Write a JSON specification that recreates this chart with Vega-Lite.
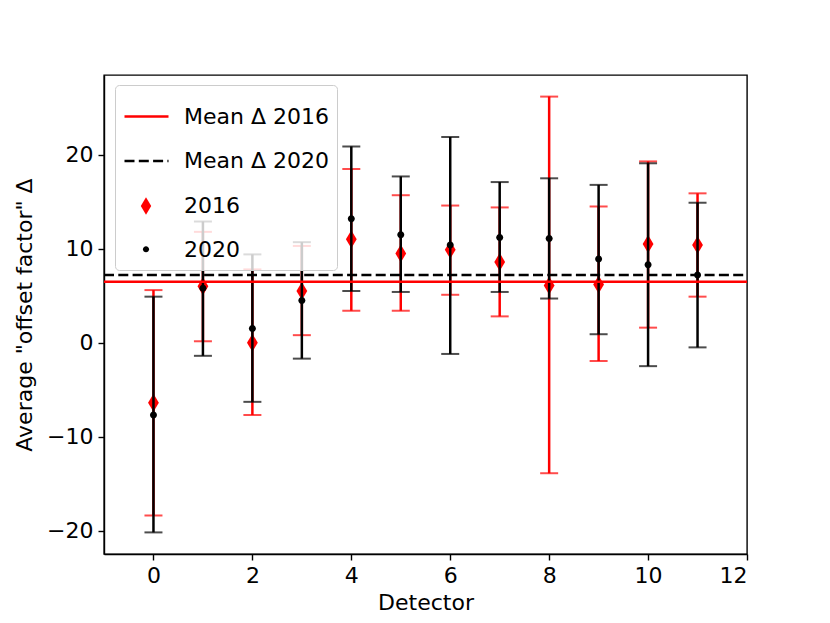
{
  "$schema": "https://vega.github.io/schema/vega-lite/v6.json",
  "width": 643,
  "height": 479,
  "autosize": "none",
  "padding": {"left": 104, "top": 75, "right": 83, "bottom": 69},
  "background": "white",
  "datasets": {
    "points": [
      {"detector": 0, "label": "2016", "value": -6.4, "lo": -18.4, "hi": 5.6},
      {"detector": 1, "label": "2016", "value": 6.0, "lo": 0.15, "hi": 11.8},
      {"detector": 2, "label": "2016", "value": 0.0, "lo": -7.7, "hi": 7.8},
      {"detector": 3, "label": "2016", "value": 5.5, "lo": 0.8, "hi": 10.3},
      {"detector": 4, "label": "2016", "value": 11.0, "lo": 3.4, "hi": 18.5},
      {"detector": 5, "label": "2016", "value": 9.5, "lo": 3.4, "hi": 15.7},
      {"detector": 6, "label": "2016", "value": 9.9, "lo": 5.1, "hi": 14.6},
      {"detector": 7, "label": "2016", "value": 8.6, "lo": 2.8, "hi": 14.4},
      {"detector": 8, "label": "2016", "value": 6.1, "lo": -13.9, "hi": 26.2},
      {"detector": 9, "label": "2016", "value": 6.2, "lo": -1.95, "hi": 14.5},
      {"detector": 10, "label": "2016", "value": 10.5, "lo": 1.6, "hi": 19.3},
      {"detector": 11, "label": "2016", "value": 10.4, "lo": 4.9, "hi": 15.9},
      {"detector": 0, "label": "2020", "value": -7.7, "lo": -20.2, "hi": 4.9},
      {"detector": 1, "label": "2020", "value": 5.8, "lo": -1.4, "hi": 12.9},
      {"detector": 2, "label": "2020", "value": 1.5, "lo": -6.3, "hi": 9.4},
      {"detector": 3, "label": "2020", "value": 4.5, "lo": -1.7, "hi": 10.7},
      {"detector": 4, "label": "2020", "value": 13.2, "lo": 5.5, "hi": 20.9},
      {"detector": 5, "label": "2020", "value": 11.5, "lo": 5.4, "hi": 17.7},
      {"detector": 6, "label": "2020", "value": 10.4, "lo": -1.2, "hi": 21.9},
      {"detector": 7, "label": "2020", "value": 11.2, "lo": 5.4, "hi": 17.1},
      {"detector": 8, "label": "2020", "value": 11.1, "lo": 4.7, "hi": 17.5},
      {"detector": 9, "label": "2020", "value": 8.9, "lo": 0.9, "hi": 16.8},
      {"detector": 10, "label": "2020", "value": 8.3, "lo": -2.5, "hi": 19.1},
      {"detector": 11, "label": "2020", "value": 7.2, "lo": -0.5, "hi": 14.9}
    ],
    "means": [
      {"label": "Mean Δ 2016", "value": 6.5},
      {"label": "Mean Δ 2020", "value": 7.2}
    ]
  },
  "encoding": {
    "x": {
      "field": "detector",
      "type": "quantitative",
      "scale": {"domain": [-1, 12], "nice": false, "zero": false},
      "axis": {"values": [0, 2, 4, 6, 8, 10, 12], "title": "Detector"}
    }
  },
  "layer": [
    {
      "data": {"name": "points"},
      "layer": [
        {
          "transform": [{"filter": "datum.label == '2016'"}],
          "layer": [
            {
              "mark": {"type": "rule", "color": "#ff0000", "strokeWidth": 2.5},
              "encoding": {
                "y": {
                  "field": "lo",
                  "type": "quantitative",
                  "scale": {"domain": [-22.5, 28.5], "nice": false, "zero": false},
                  "axis": {"values": [-20, -10, 0, 10, 20], "title": "Average \"offset factor\" Δ"}
                },
                "y2": {"field": "hi"}
              }
            },
            {
              "mark": {"type": "tick", "orient": "horizontal", "color": "#ff0000", "size": 18, "thickness": 2},
              "encoding": {"y": {"field": "lo", "type": "quantitative"}}
            },
            {
              "mark": {"type": "tick", "orient": "horizontal", "color": "#ff0000", "size": 18, "thickness": 2},
              "encoding": {"y": {"field": "hi", "type": "quantitative"}}
            },
            {
              "mark": {"type": "point", "filled": true, "opacity": 1, "size": 324},
              "encoding": {
                "y": {"field": "value", "type": "quantitative"},
                "color": {
                  "field": "label",
                  "type": "nominal",
                  "scale": {"domain": ["2016", "2020"], "range": ["#ff0000", "black"]},
                  "legend": {
                    "title": null, "orient": "none", "legendX": 31, "legendY": 120,
                    "padding": 0, "symbolSize": 300, "labelExpr": "' '",
                    "labelFontSize": 22, "labelFont": "DejaVu Sans", "rowPadding": 21.3, "zindex": 2
                  }
                },
                "shape": {
                  "field": "label",
                  "type": "nominal",
                  "scale": {
                    "domain": ["2016", "2020"],
                    "range": ["M0,-1L0.6,0L0,1L-0.6,0Z", "M-0.35,0A0.35,0.35 0 1,0 0.35,0A0.35,0.35 0 1,0 -0.35,0Z"]
                  },
                  "legend": {
                    "title": null, "orient": "none", "legendX": 31, "legendY": 120,
                    "padding": 0, "symbolSize": 300, "labelExpr": "' '",
                    "labelFontSize": 22, "labelFont": "DejaVu Sans", "rowPadding": 21.3, "zindex": 2
                  }
                }
              }
            }
          ]
        },
        {
          "transform": [{"filter": "datum.label == '2020'"}],
          "layer": [
            {
              "mark": {"type": "rule", "color": "black", "strokeWidth": 2.5},
              "encoding": {
                "y": {"field": "lo", "type": "quantitative"},
                "y2": {"field": "hi"}
              }
            },
            {
              "mark": {"type": "tick", "orient": "horizontal", "color": "black", "size": 18, "thickness": 2},
              "encoding": {"y": {"field": "lo", "type": "quantitative"}}
            },
            {
              "mark": {"type": "tick", "orient": "horizontal", "color": "black", "size": 18, "thickness": 2},
              "encoding": {"y": {"field": "hi", "type": "quantitative"}}
            },
            {
              "mark": {"type": "point", "filled": true, "opacity": 1, "size": 400},
              "encoding": {
                "y": {"field": "value", "type": "quantitative"},
                "color": {"field": "label", "type": "nominal", "legend": null},
                "shape": {"field": "label", "type": "nominal", "legend": null}
              }
            }
          ]
        }
      ]
    },
    {
      "data": {"name": "means"},
      "mark": {"type": "rule", "strokeWidth": 2.5},
      "encoding": {
        "x": {"value": 0},
        "x2": {"value": 643},
        "y": {"field": "value", "type": "quantitative"},
        "color": {
          "field": "label",
          "type": "nominal",
          "scale": {
            "domain": ["Mean Δ 2016", "Mean Δ 2020", "2016", "2020"],
            "range": ["#ff0000", "black", "#ff0000", "black"]
          },
          "legend": {
            "title": null, "orient": "none", "legendX": 11, "legendY": 10,
            "padding": 8, "fillColor": "rgba(255,255,255,0.8)", "strokeColor": "#cccccc",
            "cornerRadius": 4, "symbolSize": 1936, "symbolStrokeWidth": 2.5, "symbolType": "stroke",
            "labelOffset": 14, "labelFont": "DejaVu Sans", "labelFontSize": 22, "labelColor": "black",
            "rowPadding": 9.6, "zindex": 1
          }
        },
        "strokeDash": {
          "field": "label",
          "type": "nominal",
          "scale": {
            "domain": ["Mean Δ 2016", "Mean Δ 2020", "2016", "2020"],
            "range": [[1, 0], [10, 4.3], [0, 100], [0, 100]]
          },
          "legend": {
            "title": null, "orient": "none", "legendX": 11, "legendY": 10,
            "padding": 8, "fillColor": "rgba(255,255,255,0.8)", "strokeColor": "#cccccc",
            "cornerRadius": 4, "symbolSize": 1936, "symbolStrokeWidth": 2.5, "symbolType": "stroke",
            "labelOffset": 14, "labelFont": "DejaVu Sans", "labelFontSize": 22, "labelColor": "black",
            "rowPadding": 9.6, "zindex": 1
          }
        }
      }
    }
  ],
  "resolve": {"scale": {"color": "independent", "strokeDash": "independent", "shape": "independent"}},
  "config": {
    "view": {"stroke": "black", "strokeWidth": 1.4},
    "font": "DejaVu Sans",
    "axis": {
      "grid": false,
      "domainColor": "black",
      "domainWidth": 1.4,
      "tickColor": "black",
      "tickWidth": 1.4,
      "tickSize": 6,
      "labelFont": "DejaVu Sans",
      "labelFontSize": 22,
      "labelColor": "black",
      "labelPadding": 5,
      "titleFont": "DejaVu Sans",
      "titleFontSize": 22,
      "titleFontWeight": "normal",
      "titleColor": "black"
    },
    "axisY": {"titlePadding": 10},
    "axisX": {"titlePadding": 6}
  }
}
